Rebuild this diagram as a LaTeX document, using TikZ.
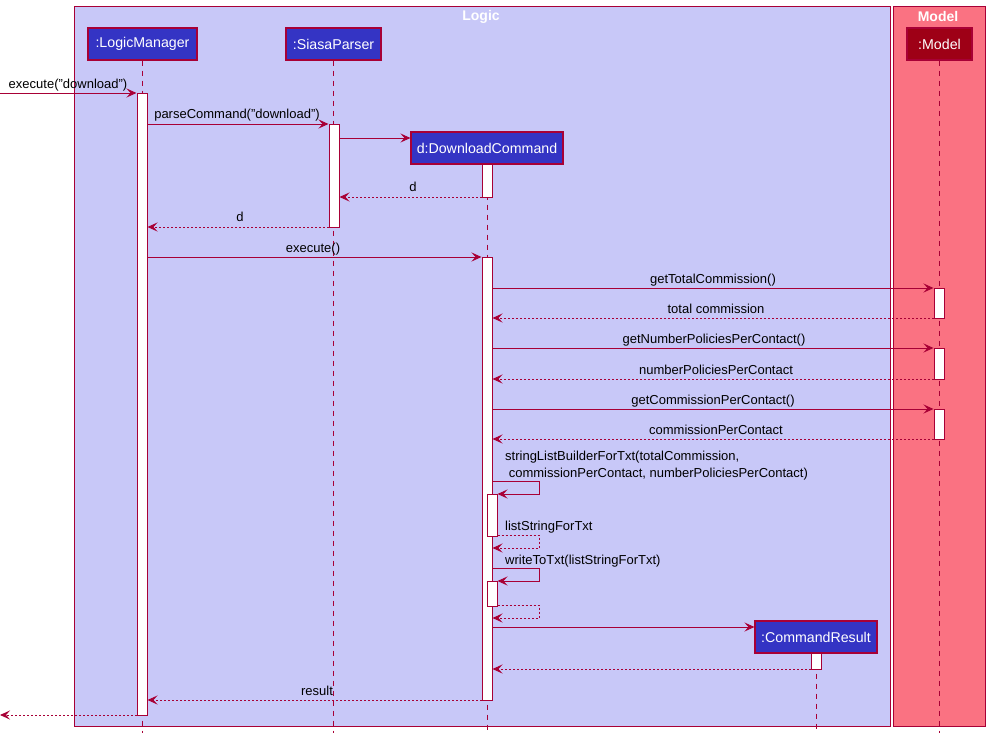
\documentclass[tikz,border=0pt]{standalone}
\usepackage{fontspec}
\setmainfont{Liberation Sans}
\usetikzlibrary{arrows.meta}
\definecolor{bord}{HTML}{A80036}
\definecolor{logicbg}{HTML}{C8C8F8}
\definecolor{modelbg}{HTML}{FA7282}
\definecolor{partbg}{HTML}{3434C4}
\definecolor{modelpart}{HTML}{9E0016}
\tikzset{
  part/.style={draw=bord, fill=partbg, text=white, font=\fontsize{14.2}{16}\selectfont, minimum height=32, inner sep=0, line width=1.1},
  act/.style={draw=bord, fill=white, line width=1, minimum width=10, inner sep=0, anchor=north},
  msg/.style={draw=bord, line width=0.9, -{Stealth[length=10,width=9,inset=4]}},
  ret/.style={msg, dash pattern=on 2pt off 2pt},
  life/.style={draw=bord, dash pattern=on 5pt off 5pt, line width=0.9},
  lbl/.style={font=\fontsize{13}{15}\selectfont, text=black, inner sep=0, anchor=base},
  lbll/.style={lbl, anchor=base west},
  grp/.style={draw=bord, line width=0.9},
  gtitle/.style={font=\bfseries\fontsize{14}{16}\selectfont, text=white, inner sep=0}
}
\begin{document}
\begin{tikzpicture}[x=1pt,y=-1pt]
\fill[white] (0,0) rectangle (990,738);
\useasboundingbox (0,0) rectangle (990,738);
% groups
\draw[grp, fill=logicbg] (74,6.5) rectangle (890.5,726);
\draw[grp, fill=modelbg] (893.5,6.5) rectangle (985,726);
\node[gtitle] (tLogic) at (481,17) {Logic};
\node[gtitle] (tModel) at (938,16) {Model};
% participants
\node[part, minimum width=109] (lm) at (142.5,44) {:LogicManager};
\node[part, minimum width=95] (sp) at (333.5,44) {:SiasaParser};
\node[part, minimum width=152] (dc) at (487,148) {d:DownloadCommand};
\node[part, minimum width=65, fill=modelpart] (md) at (939.5,44) {:Model};
\node[part, minimum width=122] (cr) at (816,637) {:CommandResult};
% lifeline ends
\coordinate (lmE) at (142,733);
\coordinate (spE) at (333,733);
\coordinate (dcE) at (487,733);
\coordinate (mdE) at (939,733);
\coordinate (crE) at (816,733);
\draw[life] (lm.south -| lmE) -- (lmE);
\draw[life] (sp.south -| spE) -- (spE);
\draw[life] (dc.south -| dcE) -- (dcE);
\draw[life] (md.south -| mdE) -- (mdE);
\draw[life] (cr.south -| crE) -- (crE);
% activations
\node[act, minimum height=622] (lmA) at (142,93) {};
\node[act, minimum height=103] (spA) at (334,124) {};
\node[act, minimum height=33] (dcA0) at (487,164) {};
\node[act, minimum height=443] (dcA) at (487,257) {};
\node[act, minimum height=30] (mdA1) at (939,288) {};
\node[act, minimum height=31] (mdA2) at (939,348) {};
\node[act, minimum height=30] (mdA3) at (939,409) {};
\node[act, minimum height=42] (dcB) at (492,494) {};
\node[act, minimum height=25] (dcC) at (492,581) {};
\node[act, minimum height=16] (crA) at (816,653) {};
% free ends
\coordinate (inS) at (0,93);
\coordinate (outE) at (0,715);
% messages
\draw[msg] (inS) -- (lmA.west |- inS);
\node[lbl] (l1) at (68,89) {execute("download")};
\draw[msg] (lmA.east |- 0,124) -- (spA.west |- 0,124);
\node[lbl] (l2) at (237,119) {parseCommand("download")};
\draw[msg] (spA.east |- 0,138) -- (dc.west |- 0,138);
\draw[ret] (dcA0.west |- 0,197) -- (spA.east |- 0,197);
\node[lbl] (l3) at (413,192) {d};
\draw[ret] (spA.west |- 0,227) -- (lmA.east |- 0,227);
\node[lbl] (l4) at (240,222) {d};
\draw[msg] (lmA.east |- 0,257) -- (dcA.west |- 0,257);
\node[lbl] (l5) at (313,252) {execute()};
\draw[msg] (dcA.east |- 0,288) -- (mdA1.west |- 0,288);
\node[lbl] (l6) at (713,283) {getTotalCommission()};
\draw[ret] (mdA1.west |- 0,318) -- (dcA.east |- 0,318);
\node[lbl] (l7) at (716,313) {total commission};
\draw[msg] (dcA.east |- 0,348) -- (mdA2.west |- 0,348);
\node[lbl] (l8) at (714,343) {getNumberPoliciesPerContact()};
\draw[ret] (mdA2.west |- 0,379) -- (dcA.east |- 0,379);
\node[lbl] (l9) at (716,374) {numberPoliciesPerContact};
\draw[msg] (dcA.east |- 0,409) -- (mdA3.west |- 0,409);
\node[lbl] (l10) at (713,404) {getCommissionPerContact()};
\draw[ret] (mdA3.west |- 0,439) -- (dcA.east |- 0,439);
\node[lbl] (l11) at (716,434) {commissionPerContact};
% self call 1
\draw[msg] (dcA.east |- 0,481) -- (539,481) |- (dcB.east |- 0,494);
\node[lbll] (l12) at (505,460) {stringListBuilderForTxt(totalCommission,};
\node[lbll] (l13) at (505,477) {\ commissionPerContact, numberPoliciesPerContact)};
\draw[ret] (dcB.east |- 0,535) -- (539,535) |- (dcA.east |- 0,548);
\node[lbll] (l14) at (505,530) {listStringForTxt};
% self call 2
\draw[msg] (dcA.east |- 0,568) -- (539,568) |- (dcC.east |- 0,581);
\node[lbll] (l15) at (505,564) {writeToTxt(listStringForTxt)};
\draw[ret] (dcC.east |- 0,605) -- (539,605) |- (dcA.east |- 0,618);
% create command result
\draw[msg] (dcA.east |- 0,627) -- (cr.west |- 0,627);
\draw[ret] (crA.west |- 0,669) -- (dcA.east |- 0,669);
\draw[ret] (dcA.west |- 0,700) -- (lmA.east |- 0,700);
\node[lbl] (l16) at (317,695) {result};
\draw[ret] (lmA.west |- outE) -- (outE);
\end{tikzpicture}
\end{document}
